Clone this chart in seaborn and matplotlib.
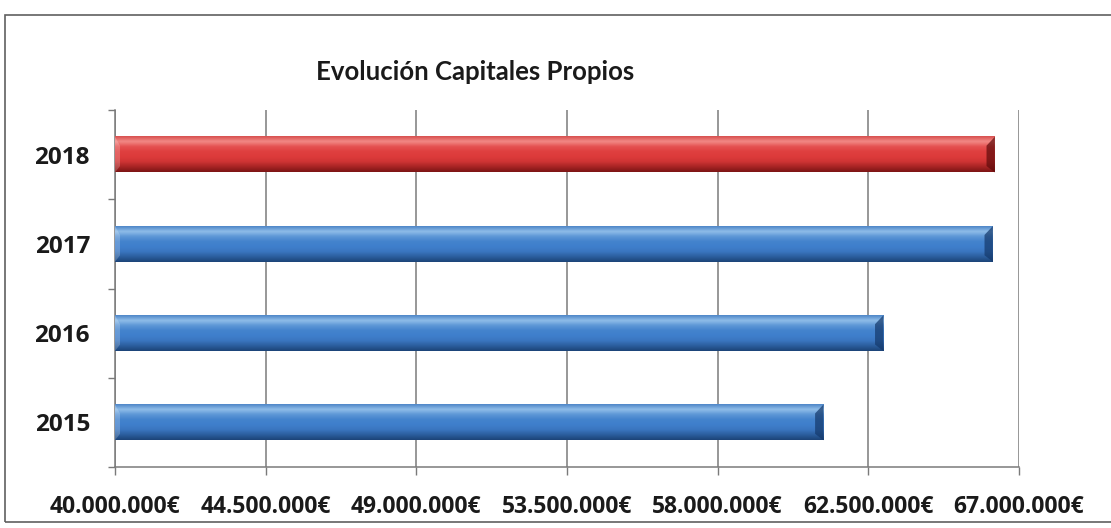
import seaborn as sns
import pandas as pd
import matplotlib.pyplot as plt
import numpy as np
from matplotlib.patches import Rectangle, Polygon
from matplotlib.colors import LinearSegmentedColormap
from matplotlib.ticker import FuncFormatter

# datos
anios = ["2018", "2017", "2016", "2015"]
capitales = [66280000, 66220000, 62950000, 61160000]
ticks_x = [40000000, 44500000, 49000000, 53500000, 58000000, 62500000, 67000000]

df = pd.DataFrame({"Año": anios, "Capital": capitales})

sns.set_style("white")
plt.rcParams['font.family'] = ['Open Sans', 'DejaVu Sans']

fig = plt.figure(figsize=(11.11, 5.28), dpi=100)
ax = fig.add_axes([115 / 1111, 1 - 467 / 528, 904 / 1111, 357 / 528])

colores = ["#dd3b3b", "#3f7fcc", "#3f7fcc", "#3f7fcc"]
sns.barplot(data=df, x="Capital", y="Año", hue="Año", palette=colores,
            orient="h", width=0.4, legend=False, ax=ax, zorder=3)

# degradado tipo 3D en las barras (de arriba a abajo)
grad_azul = LinearSegmentedColormap.from_list(
    "azul", ["#4f87c8", "#8fbde9", "#5d97d6", "#4383cd", "#3f7fcc", "#3a76c0", "#2b5e9e", "#1c4478"])
grad_rojo = LinearSegmentedColormap.from_list(
    "rojo", ["#d85050", "#f28a86", "#e55252", "#df3f3f", "#dd3b3b", "#cf3434", "#a82424", "#7c1515"])
g = np.linspace(0, 1, 64).reshape(-1, 1)
for i, p in enumerate(ax.patches):
    x0, y0 = p.get_x(), p.get_y()
    w, h = p.get_width(), p.get_height()
    cmap = grad_rojo if i == 0 else grad_azul
    p.set_facecolor("none")
    p.set_edgecolor("none")
    x_ini = max(x0, ticks_x[0])
    ax.imshow(g, cmap=cmap, aspect="auto", extent=(x_ini, x0 + w, y0 + h, y0),
              zorder=3, interpolation="bicubic")
    # bisel del extremo derecho
    b = 0.25e6
    osc = "#5e0b0b" if i == 0 else "#14386a"
    ax.add_patch(Polygon([(x0 + w - b, y0 + h * 0.25), (x0 + w, y0), (x0 + w, y0 + h),
                          (x0 + w - b, y0 + h * 0.82)], closed=True,
                         facecolor=osc, edgecolor="none", alpha=0.7, zorder=4))
    # bisel del extremo izquierdo
    ax.add_patch(Polygon([(x_ini, y0), (x_ini + b * 0.6, y0 + h * 0.25),
                          (x_ini + b * 0.6, y0 + h * 0.82), (x_ini, y0 + h)], closed=True,
                         facecolor="white", edgecolor="none", alpha=0.2, zorder=4))

ax.set_aspect("auto")
ax.set_xlim(ticks_x[0], ticks_x[-1])
ax.set_ylim(3.5, -0.5)

ax.set_xticks(ticks_x)
ax.xaxis.set_major_formatter(FuncFormatter(lambda v, pos: f"{int(v):,}€".replace(",", ".")))
ax.grid(axis="x", color="#7a7a7a", linewidth=1.1, zorder=1)
ax.grid(axis="y", visible=False)
ax.set_axisbelow(True)

ax.set_yticks(range(len(anios)))
ax.set_yticks(np.arange(-0.5, len(anios), 1), minor=True)
ax.tick_params(axis="y", which="major", length=0, pad=18, labelsize=17.5)
ax.tick_params(axis="y", which="minor", length=5, color="#7a7a7a", width=1, direction="out", left=True)
ax.tick_params(axis="x", length=6, color="#7a7a7a", width=1, direction="out", bottom=True,
               pad=14, labelsize=16.5)
for lbl in ax.get_yticklabels() + ax.get_xticklabels():
    lbl.set_fontweight("bold")
    lbl.set_color("#1a1a1a")

ax.set_xlabel("")
ax.set_ylabel("")
for s in ["top", "right"]:
    ax.spines[s].set_visible(False)
for s in ["left", "bottom"]:
    ax.spines[s].set_color("#7a7a7a")
    ax.spines[s].set_linewidth(1.1)

fig.text(475 / 1111, 1 - 72 / 528, "Evolución Capitales Propios", ha="center", va="center",
         fontsize=18.5, fontweight="bold", color="#1a1a1a", family=["Lato", "DejaVu Sans"])

# marco exterior del grafico
fig.patches.append(Rectangle((5 / 1111, 1 - 522 / 528), 1.2, 507 / 528,
                             transform=fig.transFigure, fill=False,
                             edgecolor="#606060", linewidth=1.2))

fig.savefig("out.png", dpi=100)
